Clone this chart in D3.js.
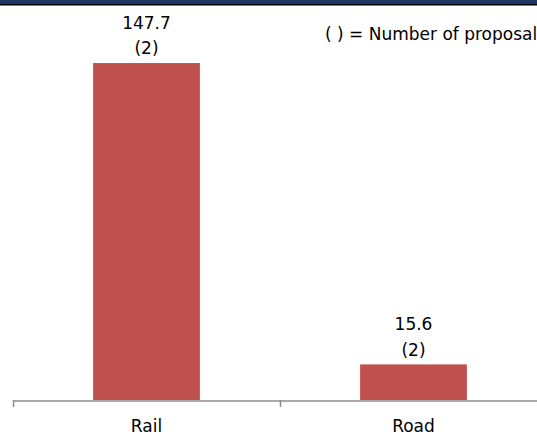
<!DOCTYPE html>
<html><head><meta charset="utf-8">
<script src="https://cdn.jsdelivr.net/npm/d3@7/dist/d3.min.js"></script>
<style>html,body{margin:0;padding:0;background:#fff;overflow:hidden}</style>
</head><body>
<svg id="c" width="537" height="434"></svg>
<script>
const categories = ["Rail", "Road"];
const values = [147.7, 15.6];
const proposals = [2, 2];
const legendText = "( ) = Number of proposals";

const W = 537, H = 434;
const svg = d3.select("#c");
const font = "DejaVu Sans, Verdana, sans-serif";
const fs = 17;

// header band
svg.append("rect").attr("x",0).attr("y",0).attr("width",W).attr("height",4).attr("fill","#1f3864");
svg.append("rect").attr("x",0).attr("y",4).attr("width",W).attr("height",1.5).attr("fill","#000");

const x = d3.scaleBand().domain(categories).range([13, 547]).paddingInner(0).paddingOuter(0);
const y = d3.scaleLinear().domain([0, 160]).range([400, 35]);
const bw = x.bandwidth() * 0.4;

svg.selectAll("rect.bar").data(categories).enter().append("rect")
  .attr("class","bar")
  .attr("x", d => x(d) + (x.bandwidth() - bw) / 2)
  .attr("width", bw)
  .attr("y", (d,i) => y(values[i]))
  .attr("height", (d,i) => y(0) - y(values[i]))
  .attr("fill", "#c0504d");

// axis
const ax = svg.append("g").attr("transform","translate(0,400.5)")
  .call(d3.axisBottom(x).tickSize(0).tickPadding(0).tickSizeOuter(0));
ax.select(".domain").attr("stroke","#8c8c8c").attr("stroke-width",1.5);
ax.selectAll(".tick text").attr("font-family",font).attr("font-size",fs).attr("fill","#000")
  .attr("dy",null).attr("y",31.5);
// boundary ticks
const bounds = [x(categories[0]), x(categories[1])];
svg.selectAll("line.bt").data(bounds).enter().append("line")
  .attr("x1", d=>d+0.5).attr("x2", d=>d+0.5).attr("y1",400).attr("y2",407)
  .attr("stroke","#8c8c8c").attr("stroke-width",1.5);

// value labels
const lab = svg.selectAll("g.lab").data(categories).enter().append("g")
  .attr("transform",(d,i)=>`translate(${x(d)+x.bandwidth()/2},${y(values[i])})`);
lab.append("text").attr("y",-34).attr("text-anchor","middle")
  .attr("font-family",font).attr("font-size",fs).attr("fill","#000")
  .text((d,i)=>values[i].toFixed(1));
lab.append("text").attr("y",-19).attr("dy","0.6em").attr("text-anchor","middle")
  .attr("font-family",font).attr("font-size",fs).attr("fill","#000")
  .text((d,i)=>`(${proposals[i]})`);

svg.append("text").attr("x",325).attr("y",40)
  .attr("font-family",font).attr("font-size",fs).attr("fill","#000")
  .text(legendText);
</script>
</body></html>
